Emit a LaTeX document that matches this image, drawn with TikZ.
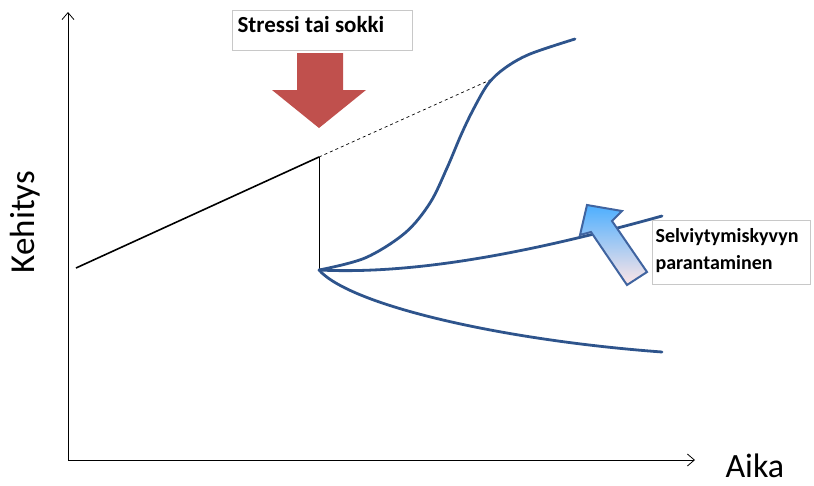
\documentclass[tikz,border=0pt]{standalone}
\usepackage{fontspec}
\setmainfont{Carlito}
\usetikzlibrary{arrows.meta}
\definecolor{curveblue}{RGB}{46,84,140}
\definecolor{stressred}{RGB}{192,80,77}
\definecolor{arrowedge}{RGB}{64,100,160}
\definecolor{boxgray}{RGB}{200,200,200}
\begin{document}
\begin{tikzpicture}[x=1pt,y=-1pt,
  axis/.style={line width=0.8pt,-{Straight Barb[length=7pt,width=12pt]}},
  growth/.style={curveblue,line width=2.8pt,line cap=round},
  labelbox/.style={draw=boxgray,line width=0.8pt,fill=white,anchor=north west,inner sep=0pt,align=left,font=\bfseries}]
\useasboundingbox (0,0) rectangle (814,485);
% axes
\coordinate (O) at (68,460);
\coordinate (ytop) at (68,12);
\coordinate (xend) at (695,460);
\draw[axis] (O) -- (ytop);
\draw[axis] (O) -- (xend);
\node[font=\fontsize{34}{38}\selectfont,anchor=west] (aika) at (722,466) {Aika};
\node[font=\fontsize{35}{38}\selectfont,rotate=90] (keh) at (25,222) {Kehitys};
% trend
\coordinate (start) at (76,268);
\coordinate (shock) at (319,157);
\coordinate (proj) at (490,80);
\coordinate (low) at (319,270);
\draw[line width=1.6pt] (start) -- (shock);
\draw[dashed,line width=0.7pt,dash pattern=on 3pt off 3pt] (shock) -- (proj);
\draw[line width=0.8pt] (shock) -- (low);
% curves
\draw[growth] plot[smooth,tension=0.55] coordinates {(319,270) (365,258) (405,233) (430,203) (447,168) (461,135) (473,110) (488,84) (505,68) (530,54) (575,39)};
\draw[growth] (low) .. controls (420,275) and (540,250) .. (662,216);
\draw[growth] (low) .. controls (350,305) and (500,340) .. (662,352);
% red arrow
\fill[stressred] (297,53) -- (343,53) -- (343,90) -- (366,90) -- (319,128) -- (272,90) -- (297,90) -- cycle;
\node[labelbox,minimum width=180pt,minimum height=40pt] (stress) at (232,10) {};
\node[font=\fontsize{23}{26}\selectfont\bfseries,anchor=north west] (stresstxt) at (234,13) {Stressi tai sokki};
% blue arrow
\shade[top color=blue!45!cyan!70,bottom color=red!10,draw=arrowedge,line width=2pt,line join=miter]
  (587,205) -- (622,211) -- (612,221) -- (647,272) -- (627,285) -- (591,232) -- (580,235) -- cycle;
\node[labelbox,minimum width=158pt,minimum height=64pt] (surv) at (652,220) {};
\node[font=\fontsize{20}{27}\selectfont\bfseries,anchor=north west,align=left] (survtxt) at (652,225) {Selviytymiskyvyn\\parantaminen};
\end{tikzpicture}
\end{document}
